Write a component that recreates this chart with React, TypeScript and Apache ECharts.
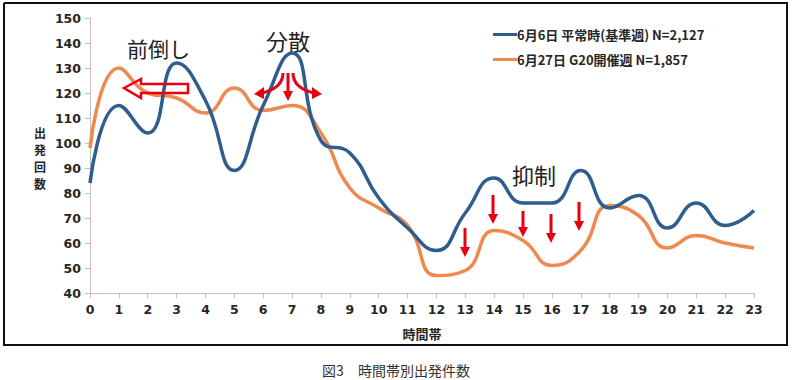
import React, { useEffect, useRef } from "react";
import * as echarts from "echarts";

const hours = ["0","1","2","3","4","5","6","7","8","9","10","11","12","13","14","15","16","17","18","19","20","21","22","23"];
const normalWeek = [84, 115, 104, 132, 117, 89, 115, 136, 101, 96, 78, 66, 57, 72, 86, 76, 76, 89, 74, 79, 66, 76, 67, 73];
const g20Week = [98, 130, 120, 118, 112, 122, 113, 115, 104, 82, 74, 67, 47, 49, 65, 61, 51, 57, 75, 71, 58, 63, 60, 58];
const seriesNames = ["6月6日 平常時(基準週) N=2,127", "6月27日 G20開催週 N=1,857"];
const yTicks = { min: 40, max: 150, interval: 10 };
const yAxisNameChars = ["出", "発", "回", "数"];

const RED = "#E60012";
const BLUE = "#2F5E8E";
const ORANGE = "#EE8A4E";

function downArrow(x: number, y1: number, y2: number) {
  return {
    type: "group",
    children: [
      { type: "line", shape: { x1: x, y1: y1, x2: x, y2: y2 - 8 }, style: { stroke: RED, lineWidth: 3 } },
      { type: "polygon", shape: { points: [[x - 5, y2 - 10], [x + 5, y2 - 10], [x, y2]] }, style: { fill: RED } },
    ],
  };
}

export default function App() {
  const ref = useRef<HTMLDivElement>(null);
  useEffect(() => {
    if (!ref.current) return;
    const chart = echarts.init(ref.current, null, { renderer: "svg" });
    const labelFont = { fontFamily: "DejaVu Sans", fontWeight: "bold" as const, fontSize: 12.5, color: "#262626" };
    chart.setOption({
      animation: false,
      backgroundColor: "#fff",
      grid: { left: 90, right: 39, top: 18, bottom: 87, containLabel: false },
      legend: {
        orient: "vertical",
        left: 488,
        top: 23,
        itemGap: 12,
        itemWidth: 24,
        itemHeight: 3,
        icon: "rect",
        textStyle: { fontFamily: "Noto Sans CJK JP", fontWeight: "bold", fontSize: 13, color: "#262626", padding: [0, 0, 0, -5] },
        data: seriesNames,
      },
      xAxis: {
        type: "category",
        data: hours,
        boundaryGap: false,
        axisLine: { lineStyle: { color: "#BFBFBF", width: 1 } },
        axisTick: { show: true, length: 5, alignWithLabel: true, lineStyle: { color: "#BFBFBF" } },
        axisLabel: { ...labelFont, margin: 10 },
        splitLine: { show: false },
      },
      yAxis: {
        type: "value",
        min: yTicks.min,
        max: yTicks.max,
        interval: yTicks.interval,
        axisLine: { show: true, lineStyle: { color: "#BFBFBF", width: 1 } },
        axisTick: { show: true, length: 5, lineStyle: { color: "#BFBFBF" } },
        axisLabel: { ...labelFont, margin: 9 },
        splitLine: { show: false },
      },
      series: [
        {
          name: seriesNames[0],
          type: "line",
          data: normalWeek,
          smooth: 0.5,
          symbol: "none",
          lineStyle: { color: BLUE, width: 3.5 },
          itemStyle: { color: BLUE },
          z: 3,
        },
        {
          name: seriesNames[1],
          type: "line",
          data: g20Week,
          smooth: 0.5,
          symbol: "none",
          lineStyle: { color: ORANGE, width: 3.5 },
          itemStyle: { color: ORANGE },
          z: 2,
        },
      ],
      graphic: [
        {
          type: "polyline",
          shape: { points: [[4, 3], [787, 3], [787, 345], [4, 345], [4, 3]] },
          style: { stroke: "#111111", lineWidth: 2, fill: null },
          z: 100,
        },
        ...yAxisNameChars.map((c, i) => ({
          type: "text", x: 40, y: 132 + i * 17,
          style: { text: c, fontFamily: "Noto Sans CJK JP", fontWeight: "bold", fontSize: 12, lineHeight: 13, fill: "#262626", align: "center", verticalAlign: "middle" },
        })),
        {
          type: "text", x: 422, y: 333,
          style: { text: "時間帯", fontFamily: "Noto Sans CJK JP", fontWeight: "bold", fontSize: 13, fill: "#262626", align: "center", verticalAlign: "middle" },
        },
        {
          type: "text", x: 396, y: 370,
          style: { text: "図3　時間帯別出発件数", fontFamily: "Noto Sans CJK JP", fontSize: 14, fill: "#333", align: "center", verticalAlign: "middle" },
        },
        {
          type: "text", x: 127, y: 48,
          style: { text: "前倒し", fontFamily: "Noto Sans CJK JP", fontSize: 21, fill: "#222", verticalAlign: "middle" },
        },
        {
          type: "text", x: 266, y: 40,
          style: { text: "分散", fontFamily: "Noto Sans CJK JP", fontSize: 22, fill: "#222", verticalAlign: "middle" },
        },
        {
          type: "text", x: 512, y: 174,
          style: { text: "抑制", fontFamily: "Noto Sans CJK JP", fontSize: 22, fill: "#222", verticalAlign: "middle" },
        },
        {
          type: "polygon",
          shape: { points: [[124, 88], [141, 79], [141, 84], [188, 84], [188, 93], [141, 93], [141, 98]] },
          style: { fill: "none", stroke: RED, lineWidth: 2.5 },
          z: 50,
        },
        downArrow(288, 73, 101),
        {
          type: "bezierCurve",
          shape: { x1: 283, y1: 73, cpx1: 283, cpy1: 88, x2: 262, y2: 93 },
          style: { stroke: RED, lineWidth: 3, fill: "none" },
          z: 50,
        },
        { type: "polygon", shape: { points: [[264, 87], [264, 99], [254, 94]] }, style: { fill: RED }, z: 50 },
        {
          type: "bezierCurve",
          shape: { x1: 293, y1: 73, cpx1: 293, cpy1: 88, x2: 314, y2: 93 },
          style: { stroke: RED, lineWidth: 3, fill: "none" },
          z: 50,
        },
        { type: "polygon", shape: { points: [[312, 87], [312, 99], [322, 94]] }, style: { fill: RED }, z: 50 },
        downArrow(465, 228, 257),
        downArrow(493, 195, 224),
        downArrow(523, 211, 237),
        downArrow(551, 214, 243),
        downArrow(579, 202, 231),
      ],
    });
    return () => chart.dispose();
  }, []);
  return <div ref={ref} style={{ position: "absolute", left: 0, top: 0, width: 793, height: 380 }} />;
}
